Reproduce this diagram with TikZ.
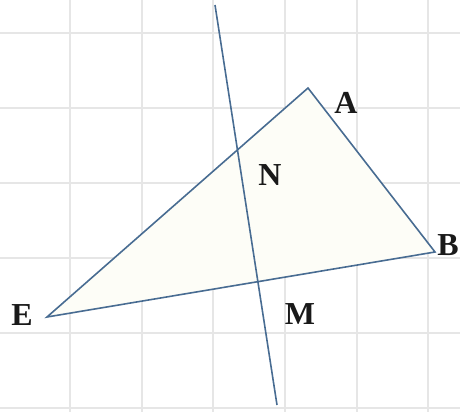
\documentclass[tikz,border=0pt]{standalone}
\usepackage{fontspec}
\setmainfont{Liberation Serif}
\definecolor{geoLine}{RGB}{72,108,146}
\definecolor{geoFill}{RGB}{253,253,247}
\definecolor{geoGrid}{RGB}{230,230,230}
\usetikzlibrary{positioning}

\begin{document}
\begin{tikzpicture}[
  x=1pt, y=-1pt,
  gridline/.style={draw=geoGrid, line width=1.2pt},
  side/.style    ={draw=geoLine, line width=1.6pt, line join=miter},
  ptlabel/.style ={font=\fontsize{32}{32}\selectfont\bfseries,
                   inner sep=0pt, text=black!90},
]
  \useasboundingbox (0,0) rectangle (460,412);

  % squared paper
  \foreach \gx in {70,142,213,285,357,428}
    \draw[gridline] (\gx,0) -- (\gx,412);
  \foreach \gy in {33,108,183,258,333,408}
    \draw[gridline] (0,\gy) -- (460,\gy);

  % triangle corners and the cutting line
  \coordinate (A)   at (308, 88);
  \coordinate (B)   at (435,252);
  \coordinate (E)   at ( 47,317);
  \coordinate (top) at (215,  5);
  \coordinate (bot) at (277,405);

  \filldraw[side, fill=geoFill] (A) -- (B) -- (E) -- cycle;
  \draw[side] (top) -- (bot);

  % letters
  \node[ptlabel] (labA) at (346,103) {A};
  \node[ptlabel] (labN) at (270,175) {N};
  \node[ptlabel] (labB) at (448,245) {B};
  \node[ptlabel] (labE) at ( 22,315) {E};
  \node[ptlabel] (labM) at (300,314) {M};

\end{tikzpicture}
\end{document}
